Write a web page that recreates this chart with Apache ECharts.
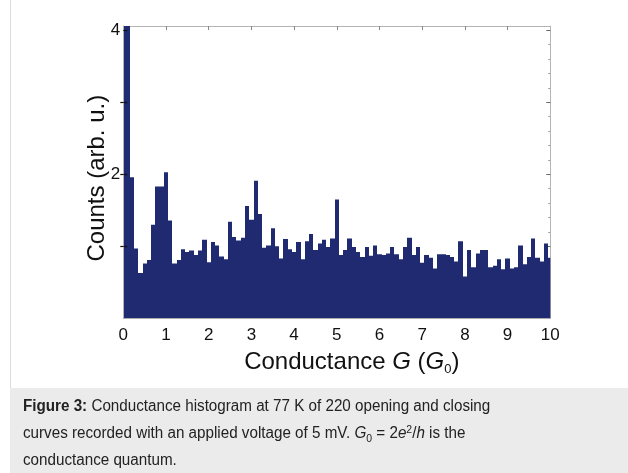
<!DOCTYPE html>
<html>
<head>
<meta charset="utf-8">
<script src="https://cdn.jsdelivr.net/npm/echarts@6/dist/echarts.min.js"></script>
<style>
  html, body { margin: 0; padding: 0; background: #fff; }
  #chart { width: 628px; height: 473px; }
</style>
</head>
<body>
<div id="chart"></div>
<script>
// histogram bins: centred on 0, 0.1, 0.2 ... 10 (G0)
const binWidth = 0.1
const counts = [
  4.2, 4.2, 1.96, 0.97, 0.63, 0.76, 0.81, 1.30, 1.83, 1.83,
  2.03, 1.36, 0.76, 0.81, 0.96, 0.92, 0.94, 0.88, 0.94, 1.09,
  0.78, 1.06, 1.01, 0.86, 0.82, 1.34, 1.13, 1.08, 1.12, 1.56,
  1.37, 1.91, 1.45, 0.98, 1.01, 1.25, 1.00, 0.83, 1.10, 0.96,
  0.92, 1.06, 0.82, 1.07, 1.17, 0.95, 1.04, 1.09, 0.99, 1.11,
  1.65, 0.88, 0.95, 1.11, 0.99, 0.92, 0.85, 0.99, 0.87, 1.01,
  0.89, 0.88, 0.90, 0.99, 0.89, 0.82, 0.99, 1.12, 0.88, 0.99,
  0.77, 0.88, 0.84, 0.69, 0.89, 0.89, 0.88, 0.85, 0.79, 1.07,
  0.58, 0.95, 0.71, 0.90, 0.95, 0.95, 0.71, 0.73, 0.82, 0.68,
  0.83, 0.69, 0.71, 1.01, 0.75, 0.85, 1.11, 0.84, 0.79, 1.04,
  0.84
]
const xTicks = [0, 1, 2, 3, 4, 5, 6, 7, 8, 9, 10]
const xTopTicks = [1, 2, 3, 4, 5, 6, 7, 8, 9]
const yTicks = [1, 2, 3, 4]
const yLabels = [2, 4]
const yMinorTicks = [0.2, 0.4, 0.6, 0.8, 1, 1.2, 1.4, 1.6, 1.8, 2, 2.2, 2.4, 2.6, 2.8, 3, 3.2, 3.4, 3.6, 3.8, 4]

const barColor = '#1f2a70'
const boxColor = '#b4b4b4'
const font = 'Liberation Sans, Arial, sans-serif'

const chart = echarts.init(document.getElementById('chart'))

const yRange = { min: 0, max: 4.06 }
const boxLine = { onZero: false, lineStyle: { color: boxColor, width: 1 } }

chart.setOption({
  animation: false,
  grid: { left: 123.3, right: 77.7, top: 26, bottom: 154.7 },
  xAxis: [
    {
      type: 'value',
      min: 0,
      max: 10,
      interval: 1,
      position: 'bottom',
      splitLine: { show: false },
      axisLine: boxLine,
      axisTick: { show: false },
      axisLabel: {
        customValues: xTicks,
        color: '#111',
        fontSize: 17,
        fontFamily: font,
        margin: 9
      },
      name: '{n|Conductance }{i|G}{n| (}{i|G}{s|0}{n|)}',
      nameLocation: 'middle',
      nameGap: 31,
      nameTextStyle: {
        padding: [0, 0, 0, 30],
        rich: {
          n: { fontSize: 24, fontFamily: font, color: '#111' },
          i: { fontSize: 24, fontFamily: font, fontStyle: 'italic', color: '#111' },
          s: { fontSize: 13, fontFamily: font, color: '#111', verticalAlign: 'bottom', padding: [14, 0, 0, 0] }
        }
      }
    },
    {
      type: 'value',
      min: 0,
      max: 10,
      position: 'top',
      splitLine: { show: false },
      axisLine: boxLine,
      axisTick: { inside: true, length: 4, customValues: xTopTicks, lineStyle: { color: '#888' } },
      axisLabel: { show: false }
    }
  ],
  yAxis: [
    {
      type: 'value',
      ...yRange,
      position: 'left',
      z: 5,
      splitLine: { show: false },
      axisLine: boxLine,
      axisTick: { inside: true, length: 4, customValues: yTicks, lineStyle: { color: '#111', width: 1.2 } },
      axisLabel: {
        customValues: yLabels,
        color: '#111',
        fontSize: 17,
        fontFamily: font,
        margin: 3
      },
      name: 'Counts (arb. u.)',
      nameLocation: 'middle',
      nameGap: 14,
      nameMoveOverlap: false,
      nameRotate: 90,
      nameTextStyle: { fontSize: 24, fontFamily: font, color: '#111', padding: [0, 12, 0, 0] }
    },
    {
      type: 'value',
      ...yRange,
      position: 'right',
      splitLine: { show: false },
      axisLine: boxLine,
      axisTick: { inside: true, length: 2, customValues: yMinorTicks, lineStyle: { color: '#999' } },
      axisLabel: { show: false }
    },
    {
      type: 'value',
      ...yRange,
      position: 'right',
      splitLine: { show: false },
      axisLine: { show: false, onZero: false },
      axisTick: { inside: true, length: 4, customValues: yTicks, lineStyle: { color: '#666' } },
      axisLabel: { show: false }
    },
    {
      // outer half of the left ticks
      type: 'value',
      ...yRange,
      position: 'left',
      splitLine: { show: false },
      axisLine: { show: false, onZero: false },
      axisTick: { inside: false, length: 3, customValues: [1, 2, 3], lineStyle: { color: '#111', width: 1.2 } },
      axisLabel: { show: false }
    }
  ],
  series: [
    {
      type: 'custom',
      xAxisIndex: 0,
      yAxisIndex: 0,
      clip: true,
      encode: { x: 0, y: 1 },
      data: counts.map((c, k) => [k * binWidth, c]),
      renderItem: function (params, api) {
        const centre = api.value(0)
        const top = api.coord([centre - binWidth / 2, api.value(1)])
        const bottom = api.coord([centre + binWidth / 2, 0])
        const x0 = Math.round(top[0])
        const x1 = Math.round(bottom[0])
        const shape = echarts.graphic.clipRectByRect(
          { x: x0, y: top[1], width: x1 - x0, height: bottom[1] - top[1] },
          {
            x: params.coordSys.x,
            y: params.coordSys.y,
            width: params.coordSys.width,
            height: params.coordSys.height
          }
        )
        return shape && { type: 'rect', shape: shape, style: { fill: barColor } }
      }
    }
  ],
  graphic: [
    {
      type: 'line',
      shape: { x1: 10.5, y1: 0, x2: 10.5, y2: 473 },
      style: { stroke: '#dcdcdc', lineWidth: 1 }
    },
    {
      type: 'rect',
      shape: { x: 10, y: 388, width: 618, height: 85 },
      style: { fill: '#ebebeb' }
    },
    {
      type: 'text',
      left: 23,
      top: 399,
      scaleX: 0.95,
      style: {
        text: '{b|Figure 3:}{n| Conductance histogram at 77 K of 220 opening and closing}',
        rich: {
          b: { fontSize: 16, fontFamily: font, fontWeight: 'bold', fill: '#222' },
          n: { fontSize: 16, fontFamily: font, fill: '#222' }
        }
      }
    },
    {
      type: 'text',
      left: 23,
      top: 423,
      scaleX: 0.95,
      style: {
        text: '{n|curves recorded with an applied voltage of 5 mV. }{i|G}{sub|0}{n| = 2}{i|e}{sup|2}{n|/}{i|h}{n| is the}',
        rich: {
          n: { fontSize: 16, lineHeight: 22, fontFamily: font, fill: '#222' },
          i: { fontSize: 16, lineHeight: 22, fontFamily: font, fontStyle: 'italic', fill: '#222' },
          sub: { fontSize: 11, lineHeight: 22, fontFamily: font, fill: '#222', padding: [10, 0, 0, 0] },
          sup: { fontSize: 11, lineHeight: 22, fontFamily: font, fill: '#222', padding: [0, 0, 8, 0] }
        }
      }
    },
    {
      type: 'text',
      left: 23,
      top: 453,
      scaleX: 0.95,
      style: {
        text: 'conductance quantum.',
        fontSize: 16,
        fontFamily: font,
        fill: '#222'
      }
    }
  ]
})
</script>
</body>
</html>
